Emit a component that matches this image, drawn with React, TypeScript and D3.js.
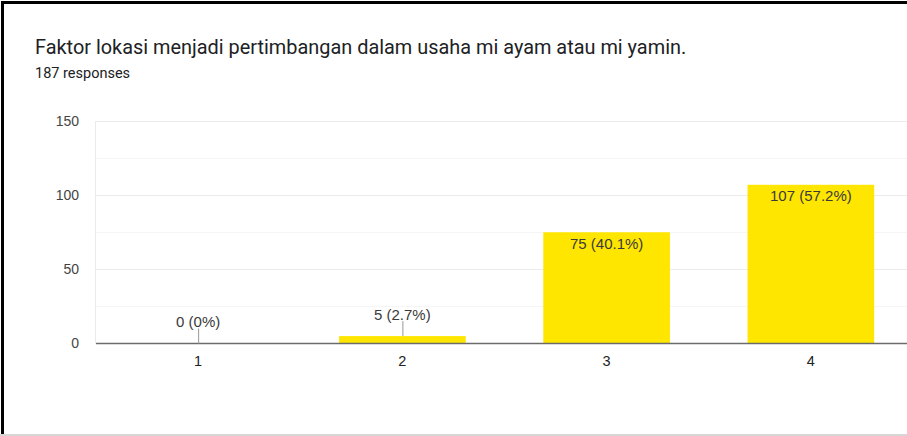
import React, { useEffect, useRef } from 'react';
import * as d3 from 'd3';

// chart data
const categories = ['1', '2', '3', '4'];
const counts = [0, 5, 75, 107];
const percents = ['0%', '2.7%', '40.1%', '57.2%'];
const yTicks = [0, 50, 100, 150];
const minorTicks = [25, 75, 125];

const title = 'Faktor lokasi menjadi pertimbangan dalam usaha mi ayam atau mi yamin.';
const subtitle = '187 responses';

const App = () => {
  const ref = useRef<SVGSVGElement>(null);

  useEffect(() => {
    const svg = d3.select(ref.current);
    svg.selectAll('*').remove();

    const width = 907;
    const height = 436;
    const margin = { top: 121, left: 96, right: -6, bottom: 92.5 };
    const chartFont = '"Liberation Sans", Arial, sans-serif';

    svg.attr('width', width).attr('height', height);

    svg.append('rect').attr('width', width).attr('height', height).attr('fill', '#fff');

    // frame
    svg.append('rect').attr('x', 1).attr('y', 1).attr('width', 3).attr('height', height).attr('fill', '#000');
    svg.append('rect').attr('x', 1).attr('y', 1).attr('width', width).attr('height', 3).attr('fill', '#000');
    svg.append('rect').attr('x', 0).attr('y', 434).attr('width', width).attr('height', 2).attr('fill', '#d6d6d6');

    svg.append('text')
      .attr('x', 35).attr('y', 54)
      .attr('font-family', 'Roboto, sans-serif')
      .attr('font-size', 19.9)
      .attr('fill', '#202124')
      .text(title);

    svg.append('text')
      .attr('x', 35).attr('y', 78)
      .attr('font-family', 'Roboto, sans-serif')
      .attr('font-size', 14.5)
      .attr('fill', '#202124')
      .text(subtitle);

    const x = d3.scaleBand()
      .domain(categories)
      .range([margin.left, width - margin.right])
      .paddingInner(0.38)
      .paddingOuter(0.19);

    const y = d3.scaleLinear()
      .domain([0, 150])
      .range([height - margin.bottom, margin.top]);

    const plotRight = width;

    // minor gridlines
    svg.append('g').selectAll('line')
      .data(minorTicks)
      .join('line')
      .attr('x1', margin.left).attr('x2', plotRight)
      .attr('y1', d => Math.round(y(d)) + 0.5).attr('y2', d => Math.round(y(d)) + 0.5)
      .attr('stroke', '#f5f5f5');

    // major gridlines
    svg.append('g').selectAll('line')
      .data(yTicks.filter(d => d > 0))
      .join('line')
      .attr('x1', margin.left).attr('x2', plotRight)
      .attr('y1', d => Math.round(y(d)) + 0.5).attr('y2', d => Math.round(y(d)) + 0.5)
      .attr('stroke', '#ebebeb');

    svg.append('line')
      .attr('x1', margin.left - 0.5).attr('x2', margin.left - 0.5)
      .attr('y1', y(150)).attr('y2', y(0))
      .attr('stroke', '#ebebeb');

    // y labels
    svg.append('g').selectAll('text')
      .data(yTicks)
      .join('text')
      .attr('x', 79)
      .attr('y', d => y(d))
      .attr('dy', '0.35em')
      .attr('text-anchor', 'end')
      .attr('font-family', chartFont)
      .attr('font-size', 14)
      .attr('fill', '#444')
      .text(d => d);

    // bars
    svg.append('g').selectAll('rect')
      .data(counts)
      .join('rect')
      .attr('x', (d, i) => x(categories[i])!)
      .attr('y', d => y(d))
      .attr('width', x.bandwidth())
      .attr('height', d => y(0) - y(d))
      .attr('fill', '#ffe600');

    // baseline
    svg.append('line')
      .attr('x1', margin.left).attr('x2', plotRight)
      .attr('y1', y(0)).attr('y2', y(0))
      .attr('stroke', '#6b6b6b')
      .attr('stroke-width', 1.5);

    // x labels
    svg.append('g').selectAll('text')
      .data(categories)
      .join('text')
      .attr('x', d => x(d)! + x.bandwidth() / 2)
      .attr('y', 366)
      .attr('text-anchor', 'middle')
      .attr('font-family', chartFont)
      .attr('font-size', 14.5)
      .attr('fill', '#222')
      .text(d => d);

    // value labels: inside tall bars, above short ones with a leader line
    const labels = svg.append('g');
    counts.forEach((d, i) => {
      const cx = x(categories[i])! + x.bandwidth() / 2;
      const label = `${d} (${percents[i]})`;
      const inside = y(0) - y(d) > 30;
      if (inside) {
        labels.append('text')
          .attr('x', cx).attr('y', y(d) + 16.5)
          .attr('text-anchor', 'middle')
          .attr('font-family', chartFont)
          .attr('font-size', 15)
          .attr('fill', '#3a3a3a')
          .text(label);
      } else {
        const top = y(d) - 15;
        labels.append('line')
          .attr('x1', cx + 0.5).attr('x2', cx + 0.5)
          .attr('y1', top).attr('y2', y(d))
          .attr('stroke', '#999');
        labels.append('text')
          .attr('x', cx).attr('y', top - 1.5)
          .attr('text-anchor', 'middle')
          .attr('font-family', chartFont)
          .attr('font-size', 15)
          .attr('fill', '#3a3a3a')
          .text(label);
      }
    });
  }, []);

  return <svg ref={ref} style={{ position: 'absolute', left: 0, top: 0 }}></svg>;
};

export default App;
